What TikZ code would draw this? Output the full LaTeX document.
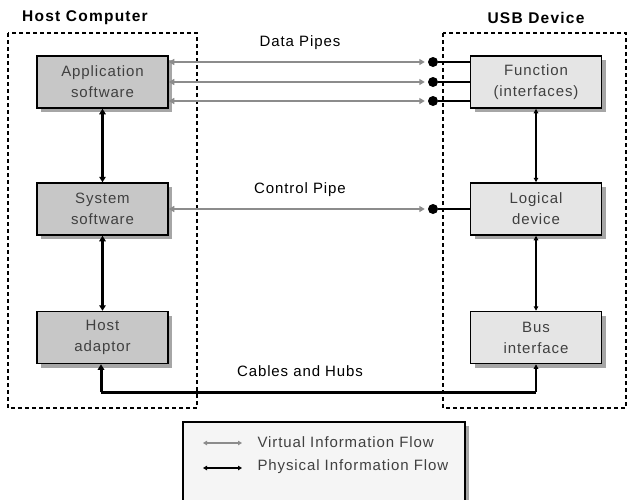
\documentclass[tikz,border=0pt]{standalone}
\usepackage{fontspec}
\setmainfont[LetterSpace=6]{Liberation Sans}
\usetikzlibrary{positioning,arrows.meta,shadows}

\tikzset{
  blk/.style={draw,line width=1.5pt,minimum width=131pt,minimum height=52pt,
    align=center,text=black!75,font=\fontsize{15}{21}\selectfont,
    drop shadow={shadow xshift=4pt,shadow yshift=-4pt,fill=black!35,opacity=1}},
  hostblk/.style={blk,fill=black!22},
  devblk/.style={blk,fill=black!10},
  frame/.style={line width=1.7pt,dash pattern=on 4pt off 3pt},
  title/.style={font=\bfseries\fontsize{15.5}{18}\selectfont\addfontfeature{LetterSpace=8}},
  lbl/.style={font=\fontsize{15}{18}\selectfont},
  pipedot/.style={circle,fill=black,inner sep=0pt,minimum size=10pt},
  virtual/.style={draw=black!45,line width=2.6pt,{Triangle[length=5.5pt,width=6pt]}-{Triangle[length=5.5pt,width=6pt]}},
  wire/.style={line width=2.8pt},
  physical/.style={line width=3.2pt,{Triangle[length=5.5pt,width=6.5pt]}-{Triangle[length=5.5pt,width=6.5pt]}},
  thinphys/.style={line width=1.3pt,{Triangle[length=4.5pt,width=4.5pt]}-{Triangle[length=4.5pt,width=4.5pt]}},
}

\begin{document}
\begin{tikzpicture}[x=1pt,y=-1pt]
%
\useasboundingbox (0,0) rectangle (629,499);
%
\node[title] (hosttitle) at (85,18) {Host Computer};
\node[title] (devtitle) at (536,18) {USB Device};
%
\draw[frame] (8,33) rectangle (197,408);
\draw[frame] (443,33) rectangle (626,408);
%
\node[hostblk] (app) at (102.5,82) {Application\\software};
\node[hostblk] (sys) at (102.5,209) {System\\software};
\node[hostblk] (adp) at (102.5,337.5) {Host\\adaptor};
%
\node[devblk] (func) at (536,82) {Function\\(interfaces)};
\node[devblk] (logi) at (536,209) {Logical\\device};
\node[devblk] (bus) at (536,337.5) {Bus\\interface};
%
\node[pipedot] (d1) at (433,62) {};
\node[pipedot] (d2) at (433,82) {};
\node[pipedot] (d3) at (433,101) {};
\node[pipedot] (d4) at (433,209) {};
%
\node[lbl] (datalbl) at (300,43) {Data Pipes};
\node[lbl] (ctrllbl) at (300,190) {Control Pipe};
\node[lbl] (cablelbl) at (300,371) {Cables and Hubs};
%
\foreach \d in {d1,d2,d3,d4}{
  \draw[virtual,shorten >=3pt] (app.east |- \d) -- (\d.west);
  \draw[wire] (\d) -- (func.west |- \d);
}
%
\draw[physical] (app.south) -- (sys.north);
\draw[physical] (sys.south) -- (adp.north);
\draw[thinphys] (func.south) -- (logi.north);
\draw[thinphys] (logi.south) -- (bus.north);
%
\coordinate (cl) at (101,392);
\coordinate (cr) at (536,392);
\draw[line width=3pt,-{Triangle[length=5.5pt,width=6.5pt]}] (cl) -- (cl |- adp.south);
\draw[line width=3pt] (cl) -- (cr);
\draw[line width=1.5pt,-{Triangle[length=4.5pt,width=4.5pt]}] (cr) -- (bus.south);
%
\node[draw,line width=1.5pt,fill=black!4,minimum width=282pt,minimum height=86pt,
  drop shadow={shadow xshift=4pt,shadow yshift=-4pt,fill=black!35,opacity=1}]
  (legend) at (324,465) {};
\coordinate (v1) at (203,443);
\coordinate (v2) at (242,443);
\coordinate (p1) at (203,468);
\coordinate (p2) at (242,468);
\draw[draw=black!45,line width=1.8pt,{Triangle[length=4pt,width=4.5pt]}-{Triangle[length=4pt,width=4.5pt]}] (v1) -- (v2);
\draw[line width=1.8pt,{Triangle[length=4pt,width=4.5pt]}-{Triangle[length=4pt,width=4.5pt]}] (p1) -- (p2);
\node[lbl,anchor=west,text=black!75] (vtxt) at (254,442) {Virtual Information Flow};
\node[lbl,anchor=west,text=black!75] (ptxt) at (254,467) {Physical Information Flow};
%
\end{tikzpicture}
\end{document}
